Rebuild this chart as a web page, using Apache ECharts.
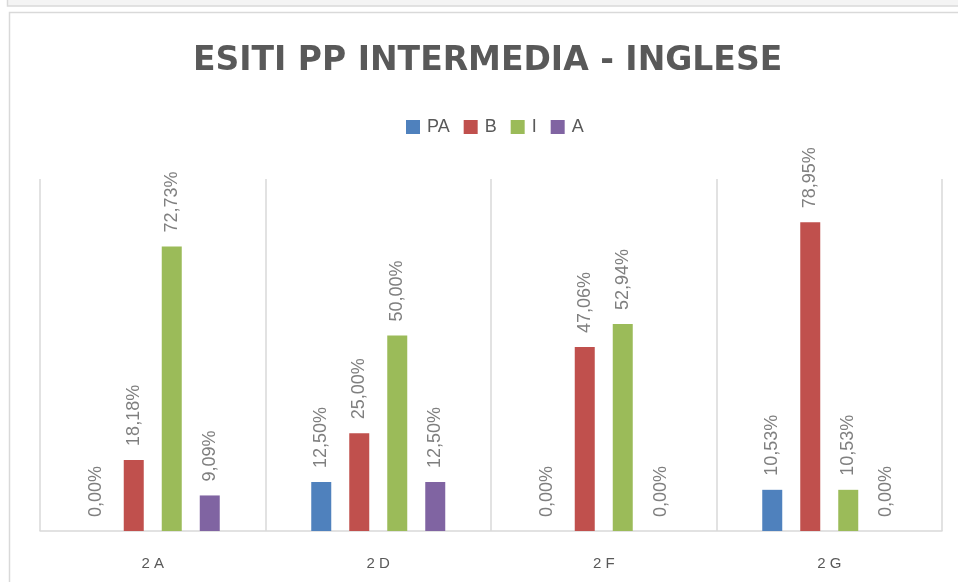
<!DOCTYPE html>
<html>
<head>
<meta charset="utf-8">
<script src="https://cdn.jsdelivr.net/npm/echarts@6/dist/echarts.min.js"></script>
<style>
  html, body { margin: 0; padding: 0; background: #fff; }
  #main { width: 958px; height: 582px; }
</style>
</head>
<body>
<div id="main"></div>
<script>
var classi = ['2 A', '2 D', '2 F', '2 G'];
var serieNomi = ['PA', 'B', 'I', 'A'];
var valoriPA = [0, 12.5, 0, 10.53];
var valoriB = [18.18, 25, 47.06, 78.95];
var valoriI = [72.73, 50, 52.94, 10.53];
var valoriA = [9.09, 12.5, 0, 0];
var colori = ['#4f81bd', '#c0504d', '#9bbb59', '#8064a2'];

var myChart = echarts.init(document.getElementById('main'));

function etichetta(p) {
    return p.value.toFixed(2).replace('.', ',') + '%';
}

function serie(nome, dati) {
    return {
        name: nome,
        type: 'bar',
        data: dati,
        barWidth: 20,
        barGap: '90%',
        label: {
            show: true,
            position: 'top',
            rotate: 90,
            align: 'left',
            verticalAlign: 'middle',
            distance: 14,
            color: '#7f7f7f',
            fontSize: 18,
            fontFamily: 'Liberation Sans',
            formatter: etichetta
        }
    };
}

var option = {
    color: colori,
    animation: false,
    title: {
        text: 'ESITI PP INTERMEDIA - INGLESE',
        left: 193,
        top: 45,
        padding: 0,
        textStyle: {
            color: '#595959',
            fontSize: 33,
            fontWeight: 'bold',
            fontFamily: 'DejaVu Sans'
        }
    },
    legend: {
        data: serieNomi,
        left: 406,
        top: 118,
        padding: 0,
        itemWidth: 14,
        itemHeight: 14,
        itemGap: 14,
        icon: 'rect',
        textStyle: {
            color: '#595959',
            fontSize: 18,
            fontFamily: 'Liberation Sans',
            padding: [0, 0, 0, 2]
        }
    },
    grid: { left: 40, right: 16, top: 179, bottom: 51 },
    xAxis: {
        type: 'category',
        data: classi,
        axisLine: { lineStyle: { color: '#d9d9d9', width: 1.5 } },
        axisTick: { show: false },
        splitLine: { show: true, lineStyle: { color: '#d9d9d9', width: 1.5 } },
        axisLabel: {
            margin: 25,
            color: '#595959',
            fontSize: 15,
            fontFamily: 'Liberation Sans'
        }
    },
    yAxis: {
        type: 'value',
        min: 0,
        max: 90,
        axisLabel: { show: false },
        axisLine: { show: false },
        axisTick: { show: false },
        splitLine: { show: false }
    },
    graphic: [
        {
            type: 'rect',
            shape: { x: 7.5, y: -10, width: 1000, height: 16 },
            style: { fill: '#f4f4f4', stroke: '#d9d9d9', lineWidth: 1.5 }
        },
        {
            type: 'rect',
            shape: { x: 9.5, y: 12.5, width: 1000, height: 1000 },
            style: { fill: 'none', stroke: '#d9d9d9', lineWidth: 1.5 }
        }
    ],
    series: [
        serie('PA', valoriPA),
        serie('B', valoriB),
        serie('I', valoriI),
        serie('A', valoriA)
    ]
};
myChart.setOption(option);
</script>
</body>
</html>
